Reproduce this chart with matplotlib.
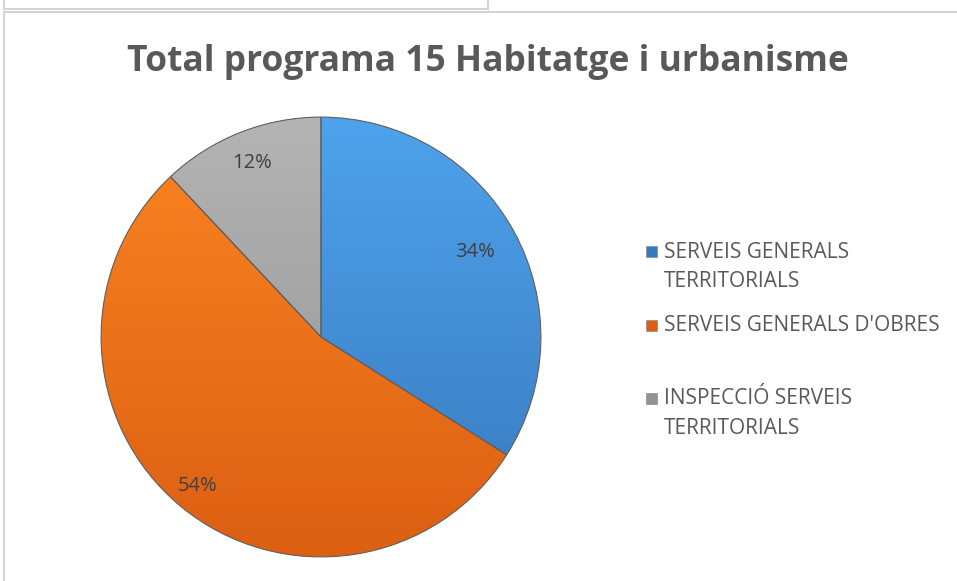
import matplotlib.pyplot as plt
import numpy as np
from matplotlib.colors import LinearSegmentedColormap
from matplotlib.patches import Rectangle
from matplotlib.lines import Line2D

# Dades del gràfic
categories = ["SERVEIS GENERALS\nTERRITORIALS",
              "SERVEIS GENERALS D'OBRES",
              "INSPECCIÓ SERVEIS\nTERRITORIALS"]
values = [34, 54, 12]
title = "Total programa 15 Habitatge i urbanisme"

# colors (clar a dalt, fosc a baix) per simular el degradat d'Excel
top_colors = ["#4ea3ec", "#fb8522", "#b4b4b4"]
bottom_colors = ["#3878bd", "#dc5f12", "#929292"]
label_r = [0.80, 0.88, 0.85]  # distància radial de cada etiqueta

plt.rcParams['font.family'] = ['Open Sans', 'DejaVu Sans']

W, H = 957, 581
fig = plt.figure(figsize=(W / 100, H / 100), dpi=100)

# marcs grisos de la pàgina
def px(x, y):
    return x / W, 1 - y / H

frame_col = "#d4d4d4"
for xs, ys in [([3.5, 3.5], [0, 9]), ([3.5, 488], [9, 9]), ([488, 488], [0, 9]),
               ([4, 4], [12, 581]), ([4, 957], [12, 12])]:
    p0 = px(xs[0], ys[0])
    p1 = px(xs[1], ys[1])
    fig.add_artist(Line2D([p0[0], p1[0]], [p0[1], p1[1]], color=frame_col, lw=1.5))

# pastís
cx, cy, r = 321, 337, 221
ax = fig.add_axes([(cx - r) / W, (H - cy - r) / H, 2 * r / W, 2 * r / H])
wedges, _ = ax.pie(values, startangle=90, counterclock=False, radius=1,
                   colors=top_colors,
                   wedgeprops=dict(edgecolor="#5f5f5f", linewidth=0.8))
ax.set_xlim(-1.005, 1.005)
ax.set_ylim(-1.005, 1.005)
ax.set_aspect('equal')
ax.axis('off')

grad = np.linspace(0, 1, 256).reshape(-1, 1)
for w, c0, c1 in zip(wedges, top_colors, bottom_colors):
    cmap = LinearSegmentedColormap.from_list("g", [c0, c1])
    im = ax.imshow(grad, extent=(-1.005, 1.005, -1.005, 1.005), origin='upper',
                   cmap=cmap, aspect='auto', zorder=w.get_zorder() - 0.1)
    im.set_clip_path(w)
    w.set_facecolor("none")

# etiquetes de percentatge
total = sum(values)
angle = 90
for v, lr in zip(values, label_r):
    span = 360 * v / total
    mid = np.deg2rad(angle - span / 2)
    ax.text(lr * np.cos(mid), lr * np.sin(mid), f"{round(100 * v / total)}%",
            ha='center', va='center', fontsize=14.5, color="#404040")
    angle -= span

# títol
fig.text(0.51, 1 - 62 / H, title, ha='center', va='center',
         fontsize=25.5, fontweight='bold', color="#595959")

# llegenda
for i, (lab, c1) in enumerate(zip(categories, bottom_colors)):
    yc = 252 + i * 73.5
    x0, y0 = px(646, yc + 5)
    fig.add_artist(Rectangle((x0, y0), 11 / W, 11 / H, transform=fig.transFigure,
                             facecolor=c1, edgecolor="#808080", lw=0.4))
    for j, line in enumerate(lab.split("\n")):
        fig.text(664 / W, 1 - (yc + j * 29) / H, line, ha='left', va='center',
                 fontsize=15, color="#595959")

fig.savefig("out.png", dpi=100)
